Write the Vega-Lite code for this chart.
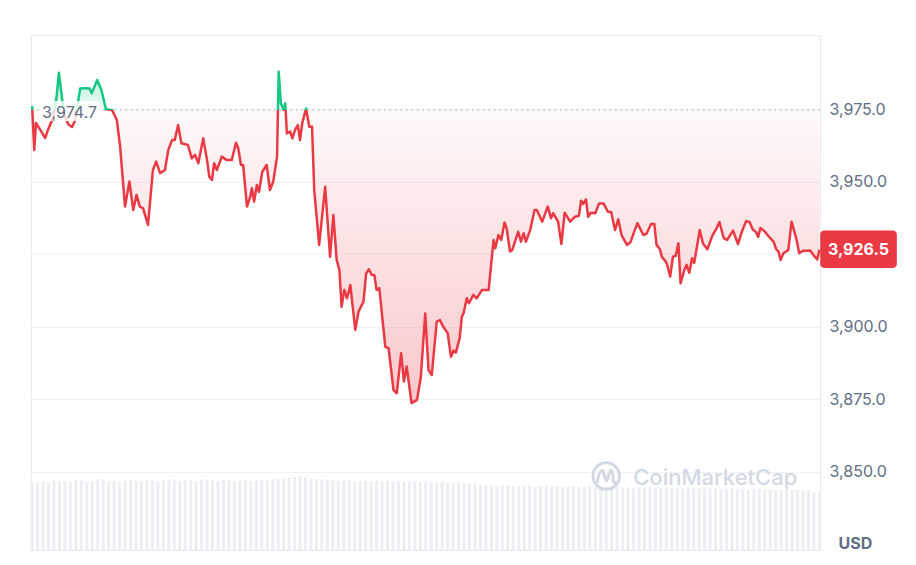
{
  "$schema": "https://vega.github.io/schema/vega-lite/v6.json",
  "autosize": "none",
  "padding": {"left": 31, "top": 35, "right": 96, "bottom": 15},
  "width": 789,
  "height": 515,
  "background": "white",
  "config": {
    "view": {"stroke": "#e6e9ee", "strokeWidth": 1},
    "font": "Inter"
  },
  "datasets": {
    "prices": [{"t":0,"p":3976.0},{"t":4,"p":3960.9},{"t":7,"p":3970.2},{"t":15,"p":3967.8},{"t":24,"p":3965.0},{"t":29,"p":3967.8},{"t":38,"p":3971.9},{"t":45,"p":3979.5},{"t":49,"p":3987.5},{"t":54,"p":3979.8},{"t":59,"p":3972.9},{"t":66,"p":3969.8},{"t":73,"p":3968.8},{"t":79,"p":3971.2},{"t":86,"p":3979.8},{"t":88,"p":3982.1},{"t":97,"p":3982.2},{"t":105,"p":3982.1},{"t":109,"p":3980.4},{"t":113,"p":3982.2},{"t":119,"p":3985.0},{"t":127,"p":3981.5},{"t":135,"p":3974.9},{"t":146,"p":3974.7},{"t":155,"p":3971.2},{"t":161,"p":3962.0},{"t":167,"p":3948.2},{"t":170,"p":3941.4},{"t":178,"p":3950.0},{"t":185,"p":3940.2},{"t":191,"p":3945.4},{"t":197,"p":3941.4},{"t":203,"p":3940.8},{"t":212,"p":3935.1},{"t":221,"p":3954.0},{"t":227,"p":3956.9},{"t":234,"p":3952.9},{"t":243,"p":3954.0},{"t":249,"p":3960.9},{"t":256,"p":3964.3},{"t":261,"p":3964.3},{"t":267,"p":3969.5},{"t":273,"p":3963.2},{"t":285,"p":3962.6},{"t":292,"p":3958.0},{"t":298,"p":3959.2},{"t":304,"p":3956.3},{"t":313,"p":3964.9},{"t":320,"p":3957.4},{"t":324,"p":3951.7},{"t":329,"p":3950.6},{"t":333,"p":3956.3},{"t":338,"p":3954.0},{"t":347,"p":3958.6},{"t":356,"p":3957.4},{"t":365,"p":3957.4},{"t":373,"p":3963.4},{"t":377,"p":3961.5},{"t":382,"p":3955.7},{"t":386,"p":3955.7},{"t":393,"p":3941.4},{"t":399,"p":3944.8},{"t":402,"p":3947.7},{"t":406,"p":3943.1},{"t":411,"p":3948.8},{"t":415,"p":3946.5},{"t":421,"p":3953.4},{"t":429,"p":3955.7},{"t":435,"p":3947.1},{"t":441,"p":3950.0},{"t":448,"p":3958.6},{"t":451,"p":3987.8},{"t":455,"p":3977.0},{"t":460,"p":3974.7},{"t":463,"p":3977.0},{"t":466,"p":3966.6},{"t":472,"p":3967.2},{"t":476,"p":3964.9},{"t":481,"p":3967.8},{"t":486,"p":3969.5},{"t":490,"p":3964.3},{"t":494,"p":3970.1},{"t":501,"p":3975.2},{"t":507,"p":3968.9},{"t":512,"p":3968.9},{"t":516,"p":3947.1},{"t":525,"p":3928.2},{"t":536,"p":3948.2},{"t":545,"p":3924.1},{"t":551,"p":3938.5},{"t":557,"p":3923.0},{"t":562,"p":3919.6},{"t":566,"p":3906.9},{"t":571,"p":3912.7},{"t":576,"p":3909.8},{"t":582,"p":3914.4},{"t":591,"p":3898.9},{"t":597,"p":3905.2},{"t":606,"p":3908.6},{"t":611,"p":3918.4},{"t":616,"p":3919.8},{"t":621,"p":3917.8},{"t":626,"p":3917.8},{"t":630,"p":3912.7},{"t":635,"p":3913.3},{"t":646,"p":3893.1},{"t":652,"p":3892.6},{"t":661,"p":3878.2},{"t":667,"p":3877.1},{"t":675,"p":3890.9},{"t":680,"p":3881.1},{"t":685,"p":3886.3},{"t":694,"p":3873.7},{"t":704,"p":3874.8},{"t":711,"p":3882.8},{"t":719,"p":3904.6},{"t":725,"p":3885.1},{"t":731,"p":3883.4},{"t":740,"p":3901.8},{"t":746,"p":3902.3},{"t":752,"p":3900.0},{"t":760,"p":3897.8},{"t":766,"p":3889.7},{"t":771,"p":3891.8},{"t":775,"p":3891.1},{"t":782,"p":3896.1},{"t":786,"p":3903.5},{"t":789,"p":3904.6},{"t":795,"p":3909.8},{"t":799,"p":3908.1},{"t":807,"p":3911.0},{"t":813,"p":3909.8},{"t":823,"p":3912.7},{"t":835,"p":3912.7},{"t":844,"p":3929.9},{"t":847,"p":3927.0},{"t":853,"p":3931.6},{"t":858,"p":3929.9},{"t":864,"p":3935.9},{"t":868,"p":3933.9},{"t":874,"p":3925.9},{"t":878,"p":3926.4},{"t":889,"p":3932.7},{"t":894,"p":3929.3},{"t":899,"p":3932.2},{"t":903,"p":3929.3},{"t":911,"p":3933.3},{"t":919,"p":3940.2},{"t":923,"p":3940.2},{"t":933,"p":3936.2},{"t":943,"p":3941.4},{"t":949,"p":3937.4},{"t":953,"p":3939.1},{"t":962,"p":3936.2},{"t":968,"p":3928.5},{"t":974,"p":3939.3},{"t":984,"p":3936.2},{"t":993,"p":3937.9},{"t":1000,"p":3938.2},{"t":1004,"p":3943.4},{"t":1008,"p":3942.3},{"t":1013,"p":3943.9},{"t":1017,"p":3937.9},{"t":1022,"p":3939.3},{"t":1030,"p":3939.1},{"t":1037,"p":3942.5},{"t":1045,"p":3942.5},{"t":1053,"p":3939.6},{"t":1059,"p":3939.5},{"t":1066,"p":3933.3},{"t":1072,"p":3937.0},{"t":1078,"p":3931.6},{"t":1088,"p":3928.2},{"t":1094,"p":3929.0},{"t":1107,"p":3935.7},{"t":1118,"p":3931.6},{"t":1124,"p":3932.1},{"t":1132,"p":3935.4},{"t":1138,"p":3935.4},{"t":1142,"p":3928.2},{"t":1148,"p":3926.8},{"t":1152,"p":3924.0},{"t":1158,"p":3922.7},{"t":1161,"p":3921.6},{"t":1167,"p":3917.3},{"t":1172,"p":3924.1},{"t":1177,"p":3924.4},{"t":1182,"p":3928.8},{"t":1186,"p":3915.0},{"t":1193,"p":3919.6},{"t":1197,"p":3921.3},{"t":1202,"p":3918.6},{"t":1207,"p":3923.6},{"t":1211,"p":3922.0},{"t":1221,"p":3933.3},{"t":1227,"p":3928.7},{"t":1235,"p":3926.7},{"t":1244,"p":3931.3},{"t":1251,"p":3933.6},{"t":1257,"p":3936.1},{"t":1265,"p":3930.5},{"t":1271,"p":3929.9},{"t":1282,"p":3933.1},{"t":1291,"p":3928.5},{"t":1298,"p":3932.7},{"t":1306,"p":3936.4},{"t":1312,"p":3936.1},{"t":1318,"p":3933.5},{"t":1324,"p":3932.6},{"t":1328,"p":3930.9},{"t":1332,"p":3934.0},{"t":1339,"p":3933.0},{"t":1350,"p":3930.5},{"t":1356,"p":3929.3},{"t":1361,"p":3926.7},{"t":1365,"p":3925.9},{"t":1369,"p":3923.0},{"t":1374,"p":3925.3},{"t":1383,"p":3926.4},{"t":1389,"p":3936.2},{"t":1398,"p":3930.1},{"t":1403,"p":3925.3},{"t":1410,"p":3926.2},{"t":1416,"p":3926.2},{"t":1423,"p":3926.3},{"t":1429,"p":3924.7},{"t":1436,"p":3923.2},{"t":1440,"p":3926.5}],
    "volume": [{"t":0,"v":13.3},{"t":10,"v":13.1},{"t":20,"v":13.4},{"t":30,"v":13.2},{"t":40,"v":13.5},{"t":50,"v":13.3},{"t":60,"v":13.4},{"t":70,"v":13.2},{"t":80,"v":13.6},{"t":90,"v":13.5},{"t":100,"v":13.3},{"t":110,"v":13.4},{"t":120,"v":13.7},{"t":130,"v":13.5},{"t":140,"v":13.3},{"t":150,"v":13.4},{"t":160,"v":13.2},{"t":170,"v":13.5},{"t":180,"v":13.6},{"t":190,"v":13.4},{"t":200,"v":13.3},{"t":210,"v":13.5},{"t":220,"v":13.6},{"t":230,"v":13.4},{"t":240,"v":13.5},{"t":250,"v":13.7},{"t":260,"v":13.5},{"t":270,"v":13.4},{"t":280,"v":13.6},{"t":290,"v":13.5},{"t":300,"v":13.4},{"t":310,"v":13.6},{"t":320,"v":13.7},{"t":330,"v":13.5},{"t":340,"v":13.4},{"t":350,"v":13.6},{"t":360,"v":13.5},{"t":370,"v":13.3},{"t":380,"v":13.5},{"t":390,"v":13.6},{"t":400,"v":13.4},{"t":410,"v":13.5},{"t":420,"v":13.6},{"t":430,"v":13.5},{"t":440,"v":13.7},{"t":450,"v":13.8},{"t":460,"v":13.9},{"t":470,"v":14.0},{"t":480,"v":14.2},{"t":490,"v":14.3},{"t":500,"v":14.1},{"t":510,"v":13.9},{"t":520,"v":13.8},{"t":530,"v":13.6},{"t":540,"v":13.7},{"t":550,"v":13.5},{"t":560,"v":13.4},{"t":570,"v":13.6},{"t":580,"v":13.5},{"t":590,"v":13.3},{"t":600,"v":13.4},{"t":610,"v":13.5},{"t":620,"v":13.3},{"t":630,"v":13.4},{"t":640,"v":13.2},{"t":650,"v":13.4},{"t":660,"v":13.3},{"t":670,"v":13.4},{"t":680,"v":13.2},{"t":690,"v":13.3},{"t":700,"v":13.4},{"t":710,"v":13.2},{"t":720,"v":13.3},{"t":730,"v":13.1},{"t":740,"v":13.2},{"t":750,"v":13.3},{"t":760,"v":13.1},{"t":770,"v":13.0},{"t":780,"v":13.2},{"t":790,"v":13.0},{"t":800,"v":12.9},{"t":810,"v":13.0},{"t":820,"v":12.7},{"t":830,"v":12.6},{"t":840,"v":12.5},{"t":850,"v":12.4},{"t":860,"v":12.6},{"t":870,"v":12.5},{"t":880,"v":12.4},{"t":890,"v":12.5},{"t":900,"v":12.4},{"t":910,"v":12.5},{"t":920,"v":12.3},{"t":930,"v":12.4},{"t":940,"v":12.5},{"t":950,"v":12.3},{"t":960,"v":12.4},{"t":970,"v":12.2},{"t":980,"v":12.3},{"t":990,"v":12.4},{"t":1000,"v":12.3},{"t":1010,"v":12.2},{"t":1020,"v":12.4},{"t":1030,"v":12.3},{"t":1040,"v":12.1},{"t":1050,"v":12.3},{"t":1060,"v":12.2},{"t":1070,"v":12.3},{"t":1080,"v":12.1},{"t":1090,"v":12.2},{"t":1100,"v":12.0},{"t":1110,"v":12.2},{"t":1120,"v":12.1},{"t":1130,"v":12.2},{"t":1140,"v":12.0},{"t":1150,"v":12.1},{"t":1160,"v":12.2},{"t":1170,"v":12.0},{"t":1180,"v":12.1},{"t":1190,"v":11.9},{"t":1200,"v":12.1},{"t":1210,"v":12.0},{"t":1220,"v":11.9},{"t":1230,"v":12.1},{"t":1240,"v":11.9},{"t":1250,"v":12.0},{"t":1260,"v":11.8},{"t":1270,"v":11.9},{"t":1280,"v":12.0},{"t":1290,"v":11.8},{"t":1300,"v":11.9},{"t":1310,"v":11.7},{"t":1320,"v":11.8},{"t":1330,"v":11.9},{"t":1340,"v":11.7},{"t":1350,"v":11.8},{"t":1360,"v":11.6},{"t":1370,"v":11.7},{"t":1380,"v":11.8},{"t":1390,"v":11.6},{"t":1400,"v":11.7},{"t":1410,"v":11.5},{"t":1420,"v":11.6},{"t":1430,"v":11.2},{"t":1440,"v":11.0}],
    "grid": [{"p":3925}],
    "baseline": [{"t":0,"p":3974.7,"label":"3,974.7"}],
    "last": [{"t":1440,"p":3926.5,"label":"3,926.5"}],
    "brand": [{"t":1050,"p":3848.6,"label":"CoinMarketCap"}]
  },
  "resolve": {"scale": {"y": "independent"}},
  "layer": [
    {
      "data": {"name": "volume"},
      "mark": {"type": "rule", "color": "#eceef2", "strokeWidth": 3},
      "encoding": {
        "x": {"field": "t", "type": "quantitative", "scale": {"domain": [-2, 1441]}, "axis": null},
        "y": {"field": "v", "type": "quantitative", "scale": {"domain": [0, 100]}, "axis": null},
        "y2": {"datum": 0}
      }
    },
    {
      "encoding": {
        "x": {"field": "t", "type": "quantitative", "scale": {"domain": [-2, 1441]}, "axis": null},
        "y": {
          "field": "p", "type": "quantitative",
          "scale": {"domain": [3823.1, 4000.5], "zero": false, "nice": false},
          "axis": {
            "orient": "right", "values": [3850, 3875, 3900, 3950, 3975], "format": ",.1f",
            "grid": true, "gridColor": "#eff2f5", "domain": false, "ticks": false,
            "labelFont": "Inter", "labelFontSize": 16, "labelColor": "#616e85", "labelPadding": 9,
            "title": "USD", "titleAngle": 0, "titleFont": "Inter", "titleFontSize": 16, "titleFontWeight": "bold",
            "titleColor": "#616e85", "titleX": 18, "titleY": 508, "titleAlign": "left", "titleBaseline": "middle"
          }
        }
      },
      "layer": [
        {
          "data": {"name": "grid"},
          "mark": {"type": "rule", "color": "#eff2f5", "strokeWidth": 1},
          "encoding": {"x": null}
        },
        {
          "data": {"name": "prices"},
          "mark": {
            "type": "area",
            "fill": {
              "gradient": "linear", "x1": 0, "y1": 0, "x2": 0, "y2": 1,
              "stops": [
                {"offset": 0, "color": "rgba(22,199,132,0.30)"},
                {"offset": 0.1148, "color": "rgba(22,199,132,0.08)"},
                {"offset": 0.1148, "color": "rgba(234,57,67,0.03)"},
                {"offset": 1, "color": "rgba(234,57,67,0.28)"}
              ]
            }
          },
          "encoding": {"y2": {"datum": 3974.7}}
        },
        {
          "data": {"name": "baseline"},
          "mark": {"type": "rule", "color": "#9aa3b5", "strokeWidth": 1, "strokeDash": [1.5, 4]},
          "encoding": {"x": null}
        },
        {
          "data": {"name": "brand"},
          "mark": {"type": "point", "shape": "circle", "filled": false, "stroke": "#d3d9e4", "strokeWidth": 3, "opacity": 1, "size": 700}
        },
        {
          "data": {"name": "brand"},
          "mark": {"type": "point", "filled": false, "stroke": "#d3d9e4", "strokeWidth": 3, "opacity": 1, "size": 900,
            "shape": "M-0.6,0.45 C-0.5,-0.2 -0.35,-0.5 -0.2,-0.3 L-0.05,0.2 C0,0.35 0.05,0.35 0.1,0.2 L0.25,-0.3 C0.35,-0.5 0.5,-0.2 0.45,0.25 C0.45,0.45 0.55,0.5 0.65,0.35"}
        },
        {
          "data": {"name": "brand"},
          "mark": {"type": "text", "align": "left", "baseline": "middle", "dx": 27, "dy": 2, "font": "Inter", "fontSize": 22, "fontWeight": 500, "color": "#d3d9e4"},
          "encoding": {"text": {"field": "label"}}
        },
        {
          "data": {"name": "prices"},
          "mark": {
            "type": "line", "strokeWidth": 2.5, "strokeJoin": "round",
            "stroke": {
              "gradient": "linear", "x1": 0, "y1": 0, "x2": 0, "y2": 1,
              "stops": [
                {"offset": 0, "color": "#16c784"},
                {"offset": 0.1148, "color": "#16c784"},
                {"offset": 0.1148, "color": "#ea3943"},
                {"offset": 1, "color": "#ea3943"}
              ]
            }
          }
        },
        {
          "data": {"name": "baseline"},
          "mark": {"type": "point", "filled": true, "fill": "white", "fillOpacity": 0.8, "opacity": 1, "strokeWidth": 0, "size": 10000,
            "shape": "M0.16,-0.18 H1.36 V0.22 H0.16 Z"}
        },
        {
          "data": {"name": "baseline"},
          "mark": {"type": "text", "align": "left", "baseline": "middle", "dx": 10, "dy": 3.5, "font": "Inter", "fontSize": 16, "color": "#616e85"},
          "encoding": {"text": {"field": "label"}}
        },
        {
          "data": {"name": "last"},
          "mark": {"type": "point", "filled": true, "fill": "#ea3943", "opacity": 1, "strokeWidth": 0, "size": 5929,
            "shape": "M0.12,-0.5 H1.91 A0.1,0.1 0 0 1 2.01,-0.4 V0.37 A0.1,0.1 0 0 1 1.91,0.47 H0.12 A0.1,0.1 0 0 1 0.02,0.37 V-0.4 A0.1,0.1 0 0 1 0.12,-0.5 Z"}
        },
        {
          "data": {"name": "last"},
          "mark": {"type": "text", "align": "center", "baseline": "middle", "dx": 39, "font": "Inter", "fontSize": 16, "fontWeight": "bold", "color": "white"},
          "encoding": {"text": {"field": "label"}}
        }
      ]
    }
  ]
}
